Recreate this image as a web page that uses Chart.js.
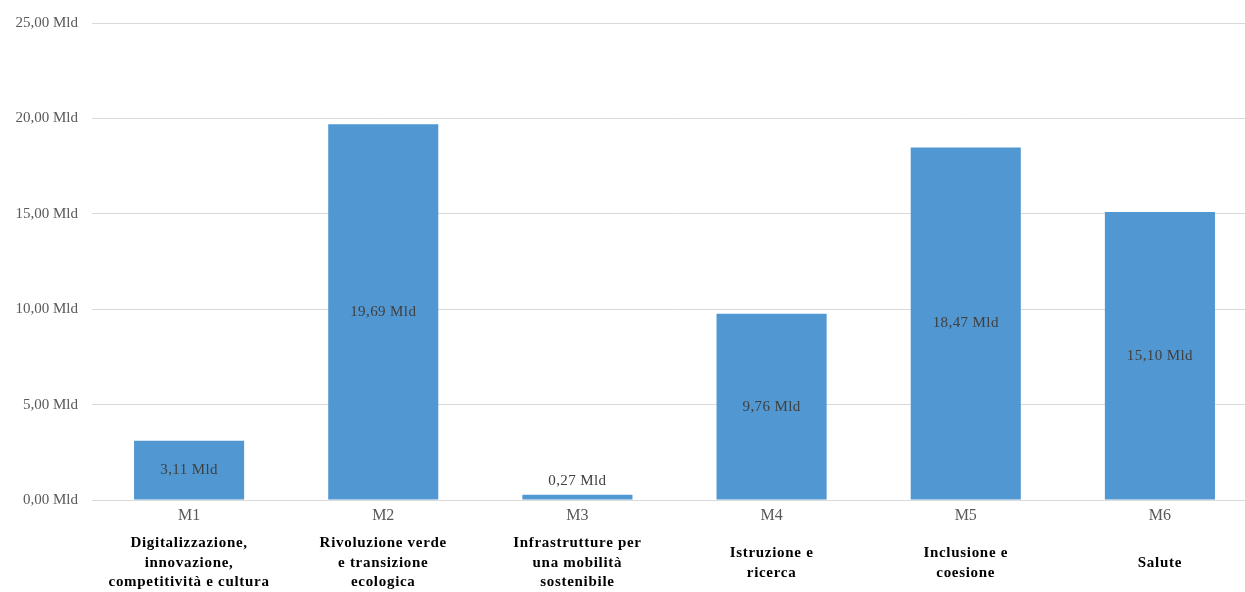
<!DOCTYPE html>
<html>
<head>
<meta charset="utf-8">
<script src="https://cdn.jsdelivr.net/npm/chart.js@4"></script>
<style>
    html, body { margin: 0; padding: 0; background: #ffffff; overflow: hidden; }
    #wrap { position: relative; width: 1257px; height: 592px; }
</style>
</head>
<body>
<div id="wrap"><canvas id="missioni-chart"></canvas></div>
<script>
"use strict";

var codes = ['M1', 'M2', 'M3', 'M4', 'M5', 'M6'];
var descriptions = [
    ['Digitalizzazione,', 'innovazione,', 'competitività e cultura'],
    ['Rivoluzione verde', 'e transizione', 'ecologica'],
    ['Infrastrutture per', 'una mobilità', 'sostenibile'],
    ['Istruzione e', 'ricerca'],
    ['Inclusione e', 'coesione'],
    ['Salute']
];
var values = [3.11, 19.69, 0.27, 9.76, 18.47, 15.10];
var yTicks = [0, 5, 10, 15, 20, 25];

var serif = "'Liberation Serif', 'DejaVu Serif', serif";

function fmtMld(v) {
    return v.toFixed(2).replace('.', ',') + ' Mld';
}

/* labels inside bars (above when the bar is too short) */
var barLabels = {
    id: 'barLabels',
    afterDatasetsDraw: function (chart) {
        var ctx = chart.ctx;
        var meta = chart.getDatasetMeta(0);
        ctx.save();
        ctx.font = '15px ' + serif;
        ctx.letterSpacing = '0.4px';
        ctx.fillStyle = '#404040';
        ctx.textAlign = 'center';
        ctx.textBaseline = 'middle';
        for (var i = 0; i < meta.data.length; i++) {
            var bar = meta.data[i];
            var h = bar.base - bar.y;
            var y = h > 24 ? bar.y + h / 2 : bar.y - 14;
            ctx.fillText(fmtMld(values[i]), bar.x, y);
        }
        ctx.restore();
    }
};

/* category code + bold description under the axis */
var xLabels = {
    id: 'xLabels',
    afterDraw: function (chart) {
        var ctx = chart.ctx;
        var xs = chart.scales.x;
        var bottom = chart.chartArea.bottom;
        ctx.save();
        ctx.textAlign = 'center';
        ctx.textBaseline = 'middle';
        for (var i = 0; i < codes.length; i++) {
            var x = xs.getPixelForValue(i);
            ctx.letterSpacing = '0px';
            ctx.font = '16px ' + serif;
            ctx.fillStyle = '#595959';
            ctx.fillText(codes[i], x, bottom + 16);
            var lines = descriptions[i];
            var lh = 19.5;
            var y0 = bottom + 63 - (lines.length - 1) * lh / 2;
            ctx.font = 'bold 15px ' + serif;
            ctx.letterSpacing = '0.7px';
            ctx.fillStyle = '#000000';
            for (var j = 0; j < lines.length; j++) {
                ctx.fillText(lines[j], x, y0 + j * lh);
            }
        }
        ctx.restore();
    }
};

var ctx = document.getElementById('missioni-chart');
var chart = new Chart(ctx, {
    type: 'bar',
    data: {
        labels: codes,
        datasets: [
            {
                data: values,
                backgroundColor: '#5197d1',
                borderWidth: 0,
                barPercentage: 0.567,
                categoryPercentage: 1
            }
        ]
    },
    options: {
        responsive: true,
        maintainAspectRatio: false,
        animation: false,
        layout: { padding: { top: 14, bottom: 92, left: 0, right: 0 } },
        plugins: {
            legend: { display: false },
            tooltip: { enabled: false }
        },
        scales: {
            x: {
                display: false
            },
            y: {
                min: 0,
                max: 25,
                afterBuildTicks: function (axis) {
                    axis.ticks = yTicks.map(function (v) { return { value: v }; });
                },
                afterFit: function (axis) {
                    axis.width = 92;
                },
                border: { display: false },
                grid: { color: '#d9d9d9', drawTicks: false, lineWidth: 1 },
                ticks: {
                    padding: 14,
                    color: '#595959',
                    font: { family: serif, size: 15 },
                    callback: function (v) { return fmtMld(v); }
                }
            }
        }
    },
    plugins: [barLabels, xLabels]
});
</script>
</body>
</html>
